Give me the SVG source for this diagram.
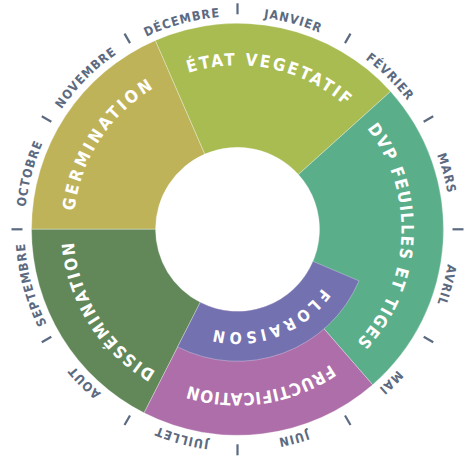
<svg xmlns="http://www.w3.org/2000/svg" xmlns:xlink="http://www.w3.org/1999/xlink" width="470" height="458" viewBox="0 0 470 458">
<style>
.seg{stroke:#ffffff;stroke-opacity:0.5;stroke-width:0.6}
.lbl{font-family:"DejaVu Sans Condensed","DejaVu Sans",sans-serif;font-stretch:condensed;font-weight:bold;fill:#ffffff;font-size:17px;letter-spacing:2.5px}
.flo{font-size:16px;letter-spacing:3.7px}
.mon{font-family:"DejaVu Sans Condensed","DejaVu Sans",sans-serif;font-stretch:condensed;font-weight:bold;fill:#5b6a80;font-size:12.5px;letter-spacing:1px}
.tick{stroke:#5b6a80;stroke-width:2.2;stroke-linecap:butt}
</style>
<defs>
<path id="pGerm" d="M 90.98,302.99 A 164 164 0 0 1 246.94,65.58"/>
<path id="pEtat" d="M 116.01,119.14 A 164 164 0 0 1 393.64,179.17"/>
<path id="pDvp" d="M 326.81,91.75 A 164 164 0 0 1 311.96,375.42"/>
<path id="pFruc" d="M 390.09,289.41 A 164 164 0 0 1 109.15,331.39"/>
<path id="pDiss" d="M 243.22,393.20 A 164 164 0 0 1 92.70,152.30"/>
<path id="pFlor" d="M 338.93,247.18 A 103 103 0 0 1 171.29,308.20"/>
<path id="mApr" d="M 450.5,229.3 A 213 213 0 0 1 421.96,335.8"/>
<path id="mMay" d="M 421.96,335.8 A 213 213 0 0 1 344.0,413.76"/>
<path id="mJun" d="M 344.0,413.76 A 213 213 0 0 1 237.5,442.3"/>
<path id="mJul" d="M 237.5,442.3 A 213 213 0 0 1 131.0,413.76"/>
<path id="mAug" d="M 131.0,413.76 A 213 213 0 0 1 53.04,335.8"/>
<path id="mSep" d="M 53.04,335.8 A 213 213 0 0 1 24.5,229.3"/>
<path id="mOct" d="M 24.5,229.3 A 213 213 0 0 1 53.04,122.8"/>
<path id="mNov" d="M 53.04,122.8 A 213 213 0 0 1 131.0,44.84"/>
<path id="mDec" d="M 131.0,44.84 A 213 213 0 0 1 237.5,16.3"/>
<path id="mJan" d="M 237.5,16.3 A 213 213 0 0 1 344.0,44.84"/>
<path id="mFeb" d="M 344.0,44.84 A 213 213 0 0 1 421.96,122.8"/>
<path id="mMar" d="M 421.96,122.8 A 213 213 0 0 1 450.5,229.3"/>
</defs>
<rect width="470" height="458" fill="#ffffff"/>
<g id="germination">
<path class="seg" fill="#bfb35a" d="M 31.5,229.3 A 206 206 0 0 1 155.37,40.38 L 204.81,154.10 A 82 82 0 0 0 155.5,229.3 Z"/>
<text class="lbl" style="letter-spacing:3px"><textPath href="#pGerm" xlink:href="#pGerm" startOffset="50%" text-anchor="middle">GERMINATION</textPath></text>
</g>
<g id="etat-vegetatif">
<path class="seg" fill="#a8bc51" d="M 155.37,40.38 A 206 206 0 0 1 390.58,91.46 L 298.43,174.43 A 82 82 0 0 0 204.81,154.10 Z"/>
<text class="lbl" style="letter-spacing:2.3px"><textPath href="#pEtat" xlink:href="#pEtat" startOffset="50%" text-anchor="middle">ÉTAT VEGETATIF</textPath></text>
</g>
<g id="dvp">
<path class="seg" fill="#5bae8a" d="M 390.58,91.46 A 206 206 0 0 1 372.66,384.77 L 291.30,291.19 A 82 82 0 0 0 298.43,174.43 Z"/>
<text class="lbl" style="letter-spacing:1.5px"><textPath href="#pDvp" xlink:href="#pDvp" startOffset="50%" text-anchor="middle">DVP FEUILLES ET TIGES</textPath></text>
</g>
<g id="fructification">
<path class="seg" fill="#ae6ea9" d="M 372.66,384.77 A 206 206 0 0 1 143.98,412.85 L 200.27,302.36 A 82 82 0 0 0 291.30,291.19 Z"/>
<text class="lbl" style="letter-spacing:0.5px"><textPath href="#pFruc" xlink:href="#pFruc" startOffset="50%" text-anchor="middle">FRUCTIFICATION</textPath></text>
</g>
<g id="dissemination">
<path class="seg" fill="#62885a" d="M 143.98,412.85 A 206 206 0 0 1 31.5,229.3 L 155.5,229.3 A 82 82 0 0 0 200.27,302.36 Z"/>
<text class="lbl" style="letter-spacing:1.9px"><textPath href="#pDiss" xlink:href="#pDiss" startOffset="50%" text-anchor="middle">DISSÉMINATION</textPath></text>
</g>
<g id="floraison">
<path class="seg" fill="#7471b1" d="M 359.01,280.87 A 132 132 0 0 1 177.57,346.91 L 200.27,302.36 A 82 82 0 0 0 312.98,261.34 Z"/>
<text class="lbl flo"><textPath href="#pFlor" xlink:href="#pFlor" startOffset="50%" text-anchor="middle">FLORAISON</textPath></text>
</g>
<g id="months">
<text class="mon"><textPath href="#mApr" xlink:href="#mApr" startOffset="50%" text-anchor="middle">AVRIL</textPath></text>
<text class="mon"><textPath href="#mMay" xlink:href="#mMay" startOffset="50%" text-anchor="middle">MAI</textPath></text>
<text class="mon"><textPath href="#mJun" xlink:href="#mJun" startOffset="50%" text-anchor="middle">JUIN</textPath></text>
<text class="mon"><textPath href="#mJul" xlink:href="#mJul" startOffset="50%" text-anchor="middle">JUILLET</textPath></text>
<text class="mon"><textPath href="#mAug" xlink:href="#mAug" startOffset="50%" text-anchor="middle">AOUT</textPath></text>
<text class="mon"><textPath href="#mSep" xlink:href="#mSep" startOffset="50%" text-anchor="middle">SEPTEMBRE</textPath></text>
<text class="mon"><textPath href="#mOct" xlink:href="#mOct" startOffset="50%" text-anchor="middle">OCTOBRE</textPath></text>
<text class="mon"><textPath href="#mNov" xlink:href="#mNov" startOffset="50%" text-anchor="middle">NOVEMBRE</textPath></text>
<text class="mon"><textPath href="#mDec" xlink:href="#mDec" startOffset="50%" text-anchor="middle">DÉCEMBRE</textPath></text>
<text class="mon"><textPath href="#mJan" xlink:href="#mJan" startOffset="50%" text-anchor="middle">JANVIER</textPath></text>
<text class="mon"><textPath href="#mFeb" xlink:href="#mFeb" startOffset="50%" text-anchor="middle">FÉVRIER</textPath></text>
<text class="mon"><textPath href="#mMar" xlink:href="#mMar" startOffset="50%" text-anchor="middle">MARS</textPath></text>
</g>
<g id="connectors">
<line class="tick" x1="452.5" y1="229.3" x2="463.5" y2="229.3"/>
<line class="tick" x1="423.69" y1="336.8" x2="433.22" y2="342.3"/>
<line class="tick" x1="345.0" y1="415.5" x2="350.5" y2="425.02"/>
<line class="tick" x1="237.5" y1="444.3" x2="237.5" y2="455.3"/>
<line class="tick" x1="130.0" y1="415.5" x2="124.5" y2="425.02"/>
<line class="tick" x1="51.31" y1="336.8" x2="41.78" y2="342.3"/>
<line class="tick" x1="22.5" y1="229.3" x2="11.5" y2="229.3"/>
<line class="tick" x1="51.31" y1="121.8" x2="41.78" y2="116.3"/>
<line class="tick" x1="130.0" y1="43.1" x2="124.5" y2="33.58"/>
<line class="tick" x1="237.5" y1="14.3" x2="237.5" y2="3.3"/>
<line class="tick" x1="345.0" y1="43.1" x2="350.5" y2="33.58"/>
<line class="tick" x1="423.69" y1="121.8" x2="433.22" y2="116.3"/>
</g>
</svg>
